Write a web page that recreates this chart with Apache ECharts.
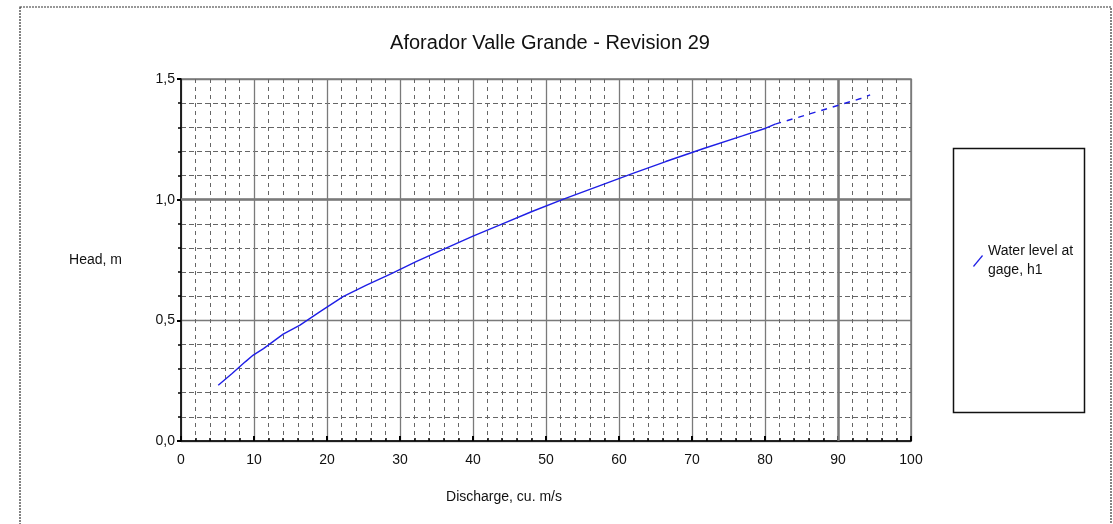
<!DOCTYPE html>
<html>
<head>
<meta charset="utf-8">
<script src="https://cdn.jsdelivr.net/npm/echarts@6/dist/echarts.min.js"></script>
<style>
html,body{margin:0;padding:0;background:#fff;}
#main{width:1113px;height:524px;}
</style>
</head>
<body>
<div id="main"></div>
<script>
const titleText = "Aforador Valle Grande - Revision 29";
const xAxisName = "Discharge, cu. m/s";
const yAxisName = "Head, m";
const seriesName = "Water level at\ngage, h1";
const xTicks = [0, 10, 20, 30, 40, 50, 60, 70, 80, 90, 100];
const yTicks = [0.0, 0.5, 1.0, 1.5];
// measured part of the rating curve (solid)
const discharge = [5.1, 7.0, 8.8, 9.9, 11.3, 14.0, 16.3, 19.0, 22.2, 25.4, 28.9, 32.2, 36.0, 40.0, 44.2, 48.0, 52.4, 57.3, 62.0, 66.4, 71.6, 76.9, 80.1, 81.4];
const head = [0.231, 0.280, 0.328, 0.356, 0.383, 0.443, 0.480, 0.535, 0.598, 0.646, 0.695, 0.743, 0.795, 0.849, 0.902, 0.950, 1.002, 1.057, 1.110, 1.158, 1.212, 1.264, 1.296, 1.313];
// extrapolated part (dashed)
const dischargeExt = [81.4, 87.2, 93.0, 94.4];
const headExt = [1.313, 1.365, 1.418, 1.434];

const font = "'Liberation Sans', Arial, sans-serif";
const chart = echarts.init(document.getElementById('main'), null, {renderer: 'canvas'});

const solidData = discharge.map((x, i) => [x, head[i]]);
const extData = dischargeExt.map((x, i) => [x, headExt[i]]);

const option = {
  backgroundColor: '#fff',
  animation: false,
  title: {
    text: titleText,
    left: 545, top: 28, textAlign: 'center',
    textStyle: {fontFamily: font, fontSize: 20, fontWeight: 'normal', color: '#111'}
  },
  grid: {
    left: 181, right: 202, top: 79, bottom: 83,
    show: true, borderColor: '#7a7a7a', borderWidth: 1.5, backgroundColor: '#fff'
  },
  legend: {
    show: true,
    left: 968, top: 237,
    orient: 'vertical',
    itemWidth: 10, itemHeight: 12,
    data: [{name: seriesName, icon: 'path://M0,12 L10,0 L11,1 L1,13 Z'}],
    textStyle: {fontFamily: font, fontSize: 14, color: '#111', lineHeight: 19},
    itemGap: 4,
    selectedMode: false
  },
  xAxis: {
    type: 'value', min: 0, max: 100, interval: 10,
    axisLine: {show: true, lineStyle: {color: '#000', width: 1.5}},
    axisTick: {show: true, inside: true, length: 5, lineStyle: {color: '#000', width: 2}},
    minorTick: {show: true, splitNumber: 5, length: 3, lineStyle: {color: '#000', width: 1.5}},
    axisLabel: {fontFamily: font, fontSize: 14, color: '#111', margin: 12},
    splitLine: {show: true, lineStyle: {color: '#7a7a7a', width: 1.3}},
    minorSplitLine: {show: true, lineStyle: {color: '#666', width: 1, type: [4, 4]}},
    name: xAxisName, nameLocation: 'middle', nameGap: 49,
    nameTextStyle: {fontFamily: font, fontSize: 14, color: '#111', padding: [0, 84, 0, 0]}
  },
  yAxis: {
    type: 'value', min: 0, max: 1.5, interval: 0.5,
    axisLine: {show: true, lineStyle: {color: '#000', width: 1.5}},
    axisTick: {show: true, inside: false, length: 4, lineStyle: {color: '#000', width: 2}},
    minorTick: {show: true, splitNumber: 5, length: 3, lineStyle: {color: '#000', width: 1.5}},
    axisLabel: {fontFamily: font, fontSize: 14, color: '#111', margin: 6,
      formatter: v => v.toFixed(1).replace('.', ',')},
    splitLine: {show: true, lineStyle: {color: '#7a7a7a', width: 1.3}},
    minorSplitLine: {show: true, lineStyle: {color: '#666', width: 1, type: [5, 3]}},
    name: yAxisName, nameLocation: 'middle', nameRotate: 0, nameGap: 59,
    nameTextStyle: {fontFamily: font, fontSize: 14, color: '#111'}
  },
  series: [
    {
      name: seriesName, type: 'line', data: solidData,
      showSymbol: false, smooth: false,
      lineStyle: {color: '#1f1fe6', width: 1.4},
      itemStyle: {color: '#1f1fe6'},
      markLine: {
        silent: true, symbol: 'none', label: {show: false},
        lineStyle: {color: '#7a7a7a', width: 2.5, type: 'solid'},
        data: [{xAxis: 90}, {yAxis: 1.0}]
      },
      z: 5
    },
    {
      name: seriesName, type: 'line', data: extData,
      showSymbol: false,
      lineStyle: {color: '#1f1fe6', width: 1.4, type: [6, 6]},
      itemStyle: {color: '#1f1fe6'},
      z: 5
    }
  ],
  graphic: [
    {type: 'rect', shape: {x: 20, y: 7, width: 1091, height: 530},
     style: {fill: 'none', stroke: '#333', lineWidth: 1.2, lineDash: [2, 1]}, z: 10, silent: true},
    {type: 'rect', shape: {x: 953.5, y: 148.5, width: 131, height: 264},
     style: {fill: 'none', stroke: '#111', lineWidth: 1.5}, z: 10, silent: true}
  ]
};
chart.setOption(option);
</script>
</body>
</html>
